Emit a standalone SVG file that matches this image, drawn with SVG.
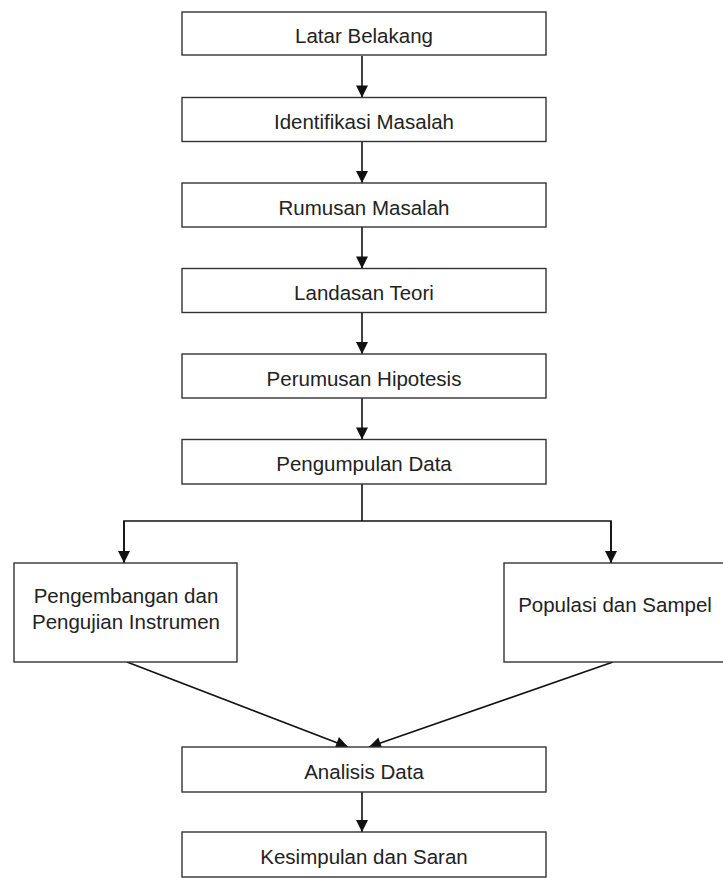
<svg xmlns="http://www.w3.org/2000/svg" width="723" height="878" viewBox="0 0 723 878">
<style>
.box{fill:#fff;stroke:#333;stroke-width:1.4}
.t{font-family:"Liberation Sans",Arial,sans-serif;font-size:20.5px;fill:#222;text-anchor:middle}
.c{fill:none;stroke:#111;stroke-width:1.6}
</style>
<defs>
<marker id="ah" markerUnits="userSpaceOnUse" markerWidth="13" markerHeight="12" refX="12" refY="6" orient="auto" viewBox="0 0 12 12">
<path d="M0,0 L12,6 L0,12 z" fill="#111"/>
</marker>
</defs>
<rect width="723" height="878" fill="#fff"/>
<g id="connectors">
<line class="c" x1="362" y1="56" x2="362" y2="97.5" marker-end="url(#ah)"/>
<line class="c" x1="362" y1="141.5" x2="362" y2="183" marker-end="url(#ah)"/>
<line class="c" x1="362" y1="227" x2="362" y2="268.5" marker-end="url(#ah)"/>
<line class="c" x1="362" y1="312.5" x2="362" y2="354" marker-end="url(#ah)"/>
<line class="c" x1="362" y1="398" x2="362" y2="439.5" marker-end="url(#ah)"/>
<polyline class="c" points="362,484 362,521"/>
<polyline class="c" points="124,563 124,521 611,521 611,563"/>
<line class="c" x1="124" y1="521" x2="124" y2="563" marker-end="url(#ah)"/>
<line class="c" x1="611" y1="521" x2="611" y2="563" marker-end="url(#ah)"/>
<line class="c" x1="127" y1="662" x2="348" y2="747" marker-end="url(#ah)"/>
<line class="c" x1="613" y1="662" x2="369" y2="747" marker-end="url(#ah)"/>
<line class="c" x1="362" y1="792" x2="362" y2="832" marker-end="url(#ah)"/>
</g>
<g id="n1"><rect class="box" x="182" y="12" width="364" height="43"/><text class="t" x="364" y="43">Latar Belakang</text></g>
<g id="n2"><rect class="box" x="182" y="97.5" width="364" height="44"/><text class="t" x="364" y="129">Identifikasi Masalah</text></g>
<g id="n3"><rect class="box" x="182" y="183" width="364" height="44"/><text class="t" x="364" y="214.5">Rumusan Masalah</text></g>
<g id="n4"><rect class="box" x="182" y="268.5" width="364" height="44"/><text class="t" x="364" y="300">Landasan Teori</text></g>
<g id="n5"><rect class="box" x="182" y="354" width="364" height="44"/><text class="t" x="364" y="385.5">Perumusan Hipotesis</text></g>
<g id="n6"><rect class="box" x="182" y="439.5" width="364" height="44.5"/><text class="t" x="364" y="471">Pengumpulan Data</text></g>
<g id="n7"><rect class="box" x="14" y="563" width="223" height="99"/><text class="t" x="126" y="603">Pengembangan dan</text><text class="t" x="126" y="629">Pengujian Instrumen</text></g>
<g id="n8"><rect class="box" x="504" y="563" width="223" height="99"/><text class="t" x="615" y="612">Populasi dan Sampel</text></g>
<g id="n9"><rect class="box" x="182" y="747" width="364" height="45"/><text class="t" x="364" y="779">Analisis Data</text></g>
<g id="n10"><rect class="box" x="182" y="832" width="364" height="45"/><text class="t" x="364" y="864">Kesimpulan dan Saran</text></g>
</svg>
